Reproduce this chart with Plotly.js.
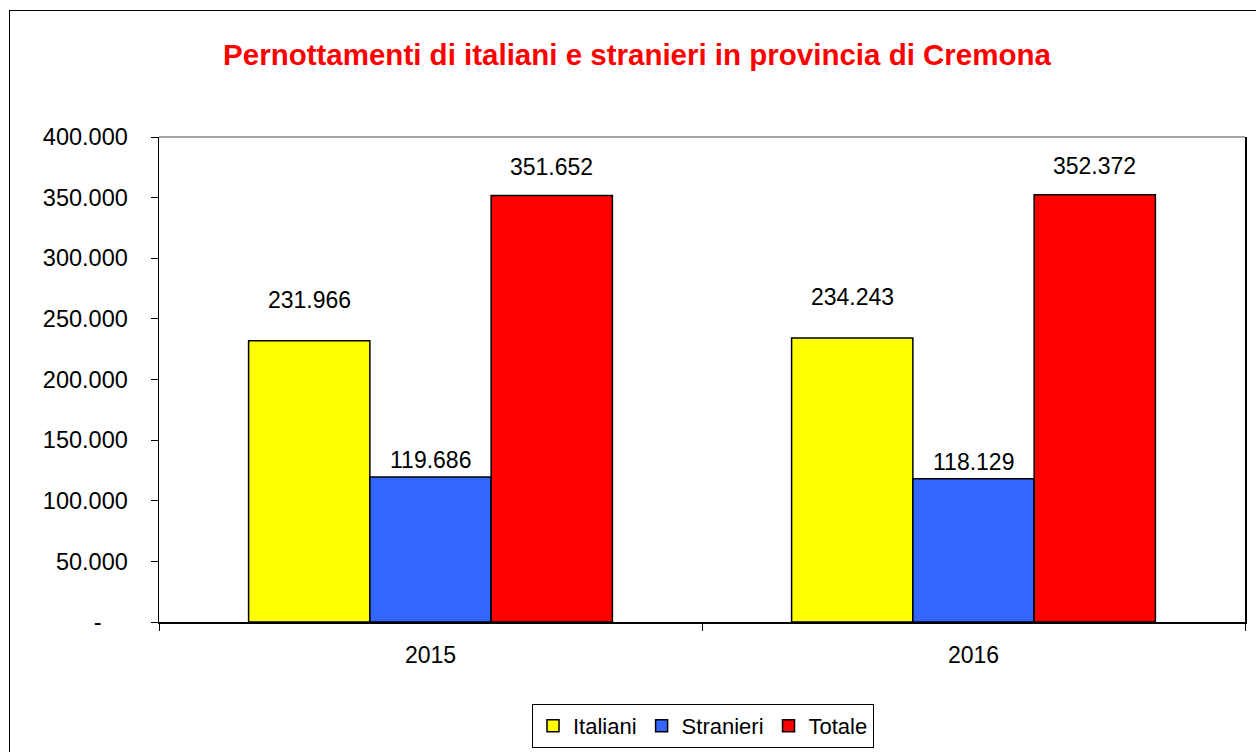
<!DOCTYPE html>
<html>
<head>
<meta charset="utf-8">
<script src="https://cdn.plot.ly/plotly-3.0.1.min.js"></script>
<style>
  html, body { margin: 0; padding: 0; background: #fff; }
  #chart { width: 1256px; height: 752px; }
  #frame { position: absolute; left: 9px; top: 10px; width: 1300px; height: 800px;
           border-left: 1.5px solid #000; border-top: 1.5px solid #000; pointer-events: none; }
</style>
</head>
<body>
<div id="chart"></div>
<div id="frame"></div>
<script>
const categories = ['2015', '2016'];
const seriesNames = ['Italiani', 'Stranieri', 'Totale'];
const italiani = [231966, 234243];
const stranieri = [119686, 118129];
const totale = [351652, 352372];
const yTickVals = [0, 50000, 100000, 150000, 200000, 250000, 300000, 350000, 400000];
const yTickText = ['-\u2007\u2007', '50.000', '100.000', '150.000', '200.000', '250.000', '300.000', '350.000', '400.000'];

const colors = ['#FFFF00', '#3366FF', '#FF0000'];
const labelShift = [41, 17, 29];
const allSeries = [italiani, stranieri, totale];

const FONT = 'Liberation Sans, Arial, sans-serif';
const margin = { l: 159, r: 11, t: 137, b: 130 };
const bargap = 0.33;
const plotW = 1256 - margin.l - margin.r;
const catW = plotW / categories.length;
const barW = catW * (1 - bargap) / seriesNames.length;

const traces = allSeries.map((vals, i) => ({
  type: 'bar',
  name: seriesNames[i],
  x: categories,
  y: vals,
  marker: { color: colors[i], line: { color: '#000', width: 1.5 } },
  hoverinfo: 'none'
}));

const fmt = v => v.toLocaleString('de-DE');

const annotations = [];
allSeries.forEach((vals, i) => {
  vals.forEach((v, j) => {
    annotations.push({
      x: j, y: v, xref: 'x', yref: 'y',
      text: fmt(v), showarrow: false,
      xshift: (i - 1) * barW, yshift: labelShift[i],
      yanchor: 'middle', xanchor: 'center',
      font: { family: FONT, size: 23, color: '#000' }
    });
  });
});

const layout = {
  width: 1256, height: 752,
  margin: Object.assign({ autoexpand: false }, margin),
  paper_bgcolor: '#fff', plot_bgcolor: '#fff',
  barmode: 'group', bargap: bargap, bargroupgap: 0,
  title: {
    text: 'Pernottamenti di italiani e stranieri in provincia di Cremona',
    font: { family: FONT, size: 29.5, color: '#FF0000', weight: 'bold' },
    x: 637 / 1256, xanchor: 'center', xref: 'container',
    y: 1 - 55 / 752, yanchor: 'middle', yref: 'container'
  },
  xaxis: {
    type: 'category',
    categoryorder: 'array', categoryarray: categories,
    range: [-0.5, categories.length - 0.5],
    showline: true, linecolor: '#000', linewidth: 1.5,
    ticks: 'outside', ticklen: 7, tickcolor: '#000', tickwidth: 1,
    tickson: 'boundaries',
    showgrid: false, zeroline: false,
    tickfont: { family: FONT, size: 23, color: '#000' },
    ticklabelstandoff: 12
  },
  yaxis: {
    range: [0, 400000],
    tickmode: 'array', tickvals: yTickVals, ticktext: yTickText,
    showline: true, linecolor: '#000', linewidth: 1.5, mirror: true,
    ticks: 'outside', ticklen: 7, tickcolor: '#000', tickwidth: 1,
    showgrid: false, zeroline: false,
    tickfont: { family: FONT, size: 23.5, color: '#000' },
    ticklabelstandoff: 18
  },
  shapes: [{
    type: 'line', xref: 'paper', yref: 'paper', x0: 0, x1: 1, y0: 1, y1: 1,
    line: { color: '#888', width: 1.5 }
  }],
  showlegend: true,
  legend: {
    orientation: 'h', x: 703 / 1256, xref: 'container', xanchor: 'center',
    y: 1 - 704 / 752, yref: 'container', yanchor: 'top',
    bordercolor: '#000', borderwidth: 1, bgcolor: '#fff',
    font: { family: FONT, size: 22, color: '#000' },
    itemwidth: 30, tracegroupgap: 0
  },
  annotations: annotations
};

Plotly.newPlot('chart', traces, layout, { staticPlot: true, displayModeBar: false });
</script>
</body>
</html>
